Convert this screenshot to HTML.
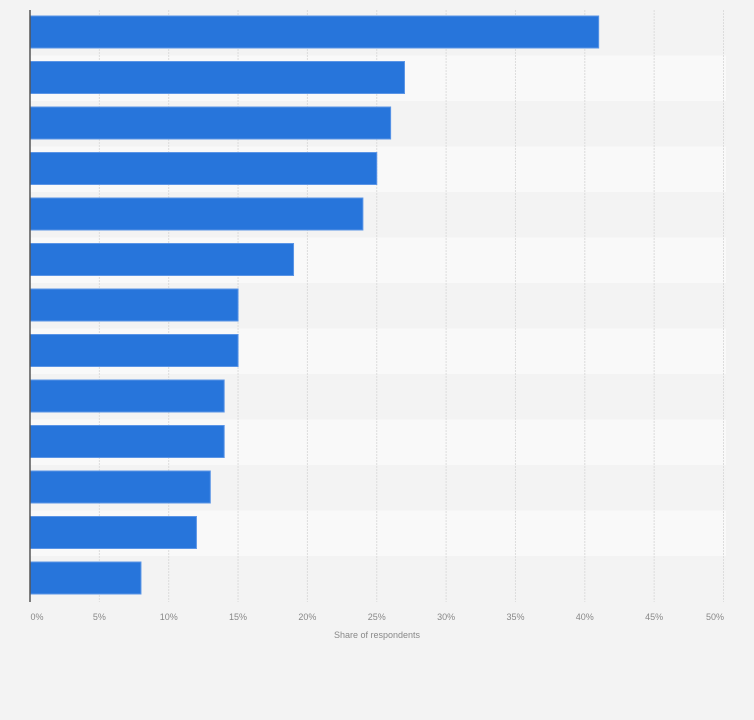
<!DOCTYPE html>
<html><head><meta charset="utf-8"><style>
html,body{margin:0;padding:0;background:#f3f3f3;}
svg{display:block;font-family:"Liberation Sans",sans-serif;}
</style></head><body>
<svg width="754" height="720" viewBox="0 0 754 720" xmlns="http://www.w3.org/2000/svg">
<rect width="754" height="720" fill="#f3f3f3"/>
<g id="rows"></g>
<g id="grid"></g>
<g id="bars"></g>
<line x1="30" y1="10" x2="30" y2="602" stroke="#555" stroke-width="1.5"/>
<g id="labels" font-size="9" fill="#888" text-anchor="middle"></g>
<text x="377" y="638" font-size="9" fill="#888" text-anchor="middle">Share of respondents</text>
</svg>
<script>
var NS="http://www.w3.org/2000/svg";
function el(p,t,a,txt){var e=document.createElementNS(NS,t);for(var k in a)e.setAttribute(k,a[k]);if(txt!=null)e.textContent=txt;document.getElementById(p).appendChild(e);}
var vals=[41,27,26,25,24,19,15,15,14,14,13,12,8];
var S=13.87;
for(var i=0;i<13;i++){
 el("rows","rect",{x:30,y:10+i*45.5,width:696,height:45.5,fill:i%2?"#f9f9f9":"#f3f3f3"});
 el("bars","rect",{x:30,y:16+i*45.5,width:vals[i]*S,height:32,fill:"#2775db",stroke:"#5b95e6","stroke-width":1});
}
for(var j=1;j<=10;j++){var x=30+j*5*S;
 el("grid","line",{x1:x,y1:10,x2:x,y2:602,stroke:"#dcdcdc","stroke-width":1,"stroke-dasharray":"2,1"});
}
for(var j=0;j<=10;j++){var x=30+j*5*S; if(j==0)x=37; if(j==10)x=715;
 el("labels","text",{x:x,y:620},(j*5)+"%");
}
</script>
</body></html>
